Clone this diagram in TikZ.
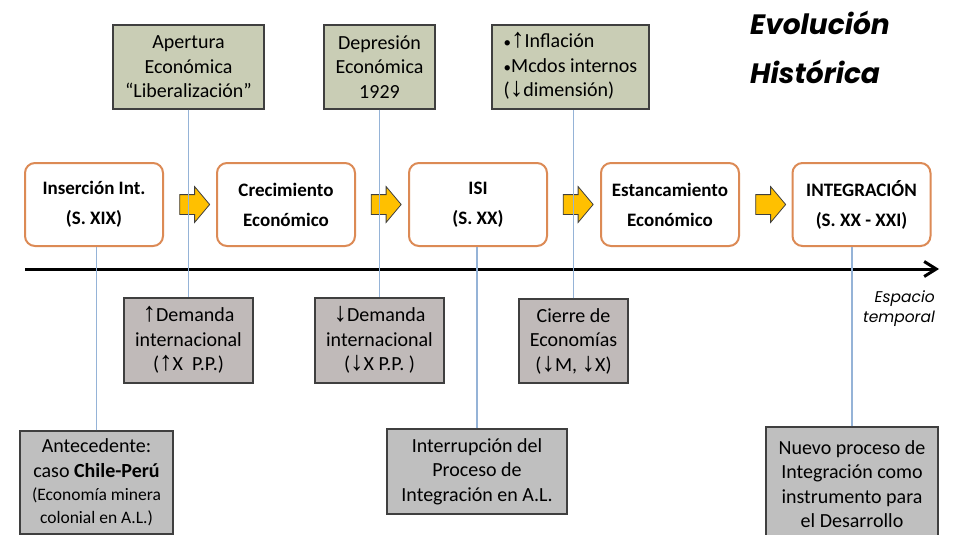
\documentclass[tikz,border=0pt]{standalone}
\usepackage{fontspec}
\setmainfont{Carlito}
\newfontfamily\titlefont{Poppins}
\newfontfamily\arrfont{Liberation Sans}
\usetikzlibrary{shapes.arrows,arrows.meta}
\newcommand{\uarr}{\raisebox{0pt}[0pt][0pt]{\arrfont\fontsize{27}{24}\selectfont ↑}}
\newcommand{\darr}{\raisebox{0pt}[0pt][0pt]{\arrfont\fontsize{27}{24}\selectfont ↓}}
\definecolor{orangeC}{HTML}{DC8A55}
\definecolor{yellowC}{HTML}{FFC000}
\definecolor{blueC}{HTML}{95B3D7}
\definecolor{bordC}{HTML}{3F3F3F}
\definecolor{topC}{HTML}{C9CDB5}
\definecolor{midC}{HTML}{C0BAB9}
\definecolor{botC}{HTML}{BFBFBF}
\tikzset{
  obox/.style={draw=orangeC, line width=2pt, rounded corners=10pt, fill=white,
    minimum width=138pt, minimum height=83pt, align=center, inner sep=0pt,
    font=\bfseries\fontsize{19}{30}\selectfont},
  gbox/.style={draw=bordC, line width=1.1pt, align=center, inner sep=0pt,
    font=\fontsize{20}{24.5}\selectfont},
  topbox/.style={gbox, fill=topC},
  midbox/.style={gbox, fill=midC},
  botbox/.style={gbox, fill=botC},
  yarrow/.style={single arrow, draw=bordC, fill=yellowC, line width=0.8pt,
    inner xsep=0pt, inner ysep=9.5pt, single arrow head extend=8pt,
    minimum height=30pt, single arrow tip angle=100},
  bline/.style={draw=blueC, line width=1.4pt},
}
\begin{document}
\begin{tikzpicture}[x=1pt,y=-1pt]
\useasboundingbox[fill=white] (0,0) rectangle (955,535);

% title
\node[anchor=base west, inner sep=0pt, font=\titlefont\bfseries\itshape\fontsize{28}{34}\selectfont] (t1) at (750,35) {Evolución};
\node[anchor=base west, inner sep=0pt, font=\titlefont\bfseries\itshape\fontsize{28}{34}\selectfont] (t2) at (750,83) {Histórica};

% top boxes
\node[topbox, minimum width=151pt, minimum height=84pt] (ap) at (188.5,67) {Apertura\\Económica\\“Liberalización”};
\node[topbox, minimum width=111pt, minimum height=84pt] (dep) at (379.5,67) {Depresión\\Económica\\1929};
\node[topbox, minimum width=157pt, minimum height=84pt, align=left] (inf) at (570.5,67) {{\fontsize{15}{15}\selectfont•}\uarr Inflación\\{\fontsize{15}{15}\selectfont•}Mcdos internos\\(\darr dimensión)};

% main boxes
\node[obox] (b1) at (94,204.5) {Inserción Int.\\(S. XIX)};
\node[obox] (b2) at (286,204.5) {Crecimiento\\Económico};
\node[obox] (b3) at (478,204.5) {ISI\\(S. XX)};
\node[obox] (b4) at (670,204.5) {Estancamiento\\Económico};
\node[obox] (b5) at (861.5,204.5) {INTEGRACIÓN\\(S. XX - XXI)};

% yellow arrows
\node[yarrow] (y1) at (190.5,204.5) {};
\node[yarrow] (y2) at (382,204.5) {};
\node[yarrow] (y3) at (574,204.5) {};
\node[yarrow] (y4) at (766.5,204.5) {};

% middle boxes
\node[midbox, minimum width=129pt, minimum height=85pt] (m1) at (188.5,340.5) {\uarr Demanda\\internacional\\(\uarr X\ \ P.P.)};
\node[midbox, minimum width=129pt, minimum height=85pt] (m2) at (379.5,340.5) {\darr Demanda\\internacional\\(\darr X P.P. )};
\node[midbox, minimum width=109pt, minimum height=84pt] (m3) at (573.5,341) {Cierre de\\Economías\\(\darr M, \darr X)};

% bottom boxes
\node[botbox, minimum width=153pt, minimum height=103pt] (c1) at (96.5,482.5) {Antecedente:\\caso \textbf{Chile-Perú}\\[-1pt]{\fontsize{17.5}{22}\selectfont (Economía minera}\\[-2pt]{\fontsize{17.5}{22}\selectfont colonial en A.L.)}};
\node[botbox, minimum width=180pt, minimum height=85pt] (c2) at (477,471.5) {Interrupción del\\Proceso de\\Integración en A.L.};
\node[botbox, minimum width=172pt, minimum height=114pt] (c3) at (852,484) {Nuevo proceso de\\Integración como\\instrumento para\\el Desarrollo};

% timeline
\coordinate (tl1) at (25,269);
\coordinate (tl2) at (939,269);
\draw[line width=3pt, -{Straight Barb[length=12pt,width=15pt]}] (tl1) -- (tl2);
\node[anchor=north east, inner sep=0pt, align=right, font=\titlefont\itshape\fontsize{15.5}{20}\selectfont] (esp) at (935,291) {Espacio\\temporal};

% blue connectors
\draw[bline] (ap.south) -- (m1.north);
\draw[bline] (dep.south) -- (m2.north);
\draw[bline] (m3.north) -- (m3.north |- inf.south);
\draw[bline] (c1.north) -- (c1.north |- b1.south);
\draw[bline] (c2.north) -- (c2.north |- b3.south);
\draw[bline] (c3.north) -- (c3.north |- b5.south);
\end{tikzpicture}
\end{document}
